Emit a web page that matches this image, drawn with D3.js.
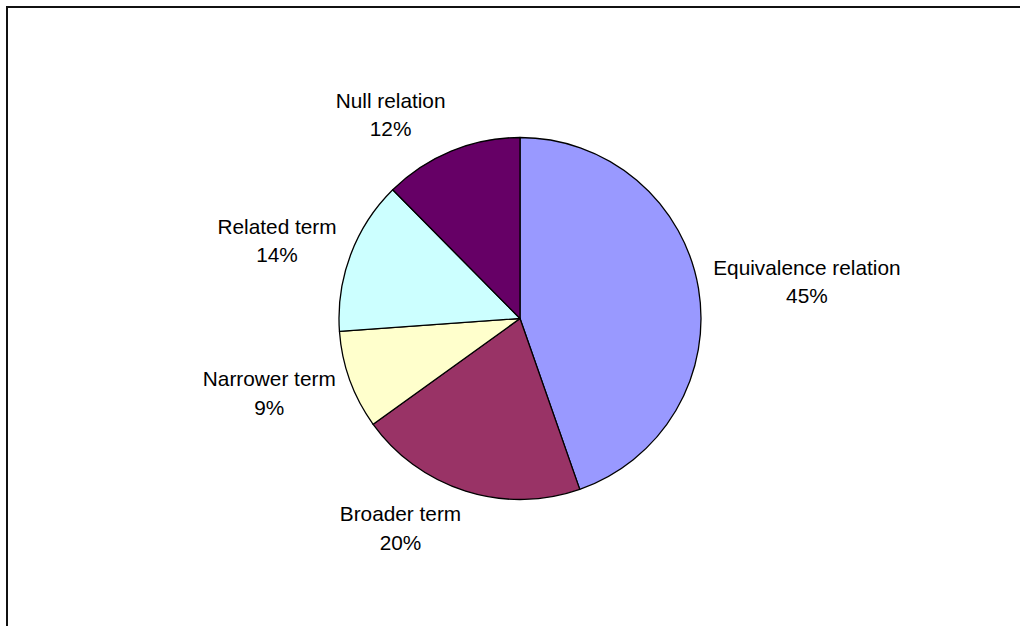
<!DOCTYPE html>
<html>
<head>
<meta charset="utf-8">
<script src="https://cdn.jsdelivr.net/npm/d3@7"></script>
<style>
  html, body { margin: 0; padding: 0; background: #fff; }
  svg { display: block; }
  text { font-family: "Liberation Sans", Arial, sans-serif; font-size: 20.8px; fill: #000; }
</style>
</head>
<body>
<svg id="chart" width="1020" height="626"></svg>
<script>
// Data (clockwise from 12 o'clock)
const categories = ["Equivalence relation", "Broader term", "Narrower term", "Related term", "Null relation"];
const values = [44.6, 20.4, 8.8, 13.7, 12.4];
const colors = ["#9999FF", "#993366", "#FFFFCC", "#CCFFFF", "#660066"];

const W = 1020, H = 626;
const cx = 520, cy = 318.5, R = 181;
const labelR = R + 15;
const lineH = 28.3;

const svg = d3.select("#chart");

// Frame (top and left edges visible)
svg.append("path")
  .attr("d", `M7,${H} V7 H${W}`)
  .attr("fill", "none")
  .attr("stroke", "#111")
  .attr("stroke-width", 2);

const total = d3.sum(values);
const pie = d3.pie().sort(null).value(d => d.value);
const arcs = pie(categories.map((c, i) => ({ name: c, value: values[i], color: colors[i] })));
const arc = d3.arc().innerRadius(0).outerRadius(R);

const g = svg.append("g").attr("transform", `translate(${cx},${cy})`);

g.selectAll("path.slice")
  .data(arcs)
  .join("path")
  .attr("class", "slice")
  .attr("d", arc)
  .attr("fill", d => d.data.color)
  .attr("stroke", "#000")
  .attr("stroke-width", 1.3)
  .attr("stroke-linejoin", "round");

// Labels
const labels = g.selectAll("text.lbl")
  .data(arcs)
  .join("text")
  .attr("class", "lbl")
  .attr("text-anchor", "middle");

labels.append("tspan").attr("class", "l1").attr("x", 0).attr("y", 0).text(d => d.data.name);
labels.append("tspan").attr("class", "l2").attr("x", 0).attr("y", lineH).text(d => Math.round(d.data.value / total * 100) + "%");

labels.each(function(d) {
  const t = d3.select(this);
  const w = this.getBBox().width;
  const h = 48;
  const a = (d.startAngle + d.endAngle) / 2;
  const s = Math.sin(a), c = Math.cos(a);
  const px = labelR * s, py = -labelR * c;
  const bx = px + Math.sign(s) * w / 2;
  const by = py - c * h / 2;
  t.select(".l1").attr("x", bx).attr("y", by - 7);
  t.select(".l2").attr("x", bx).attr("y", by - 7 + lineH);
});
</script>
</body>
</html>
